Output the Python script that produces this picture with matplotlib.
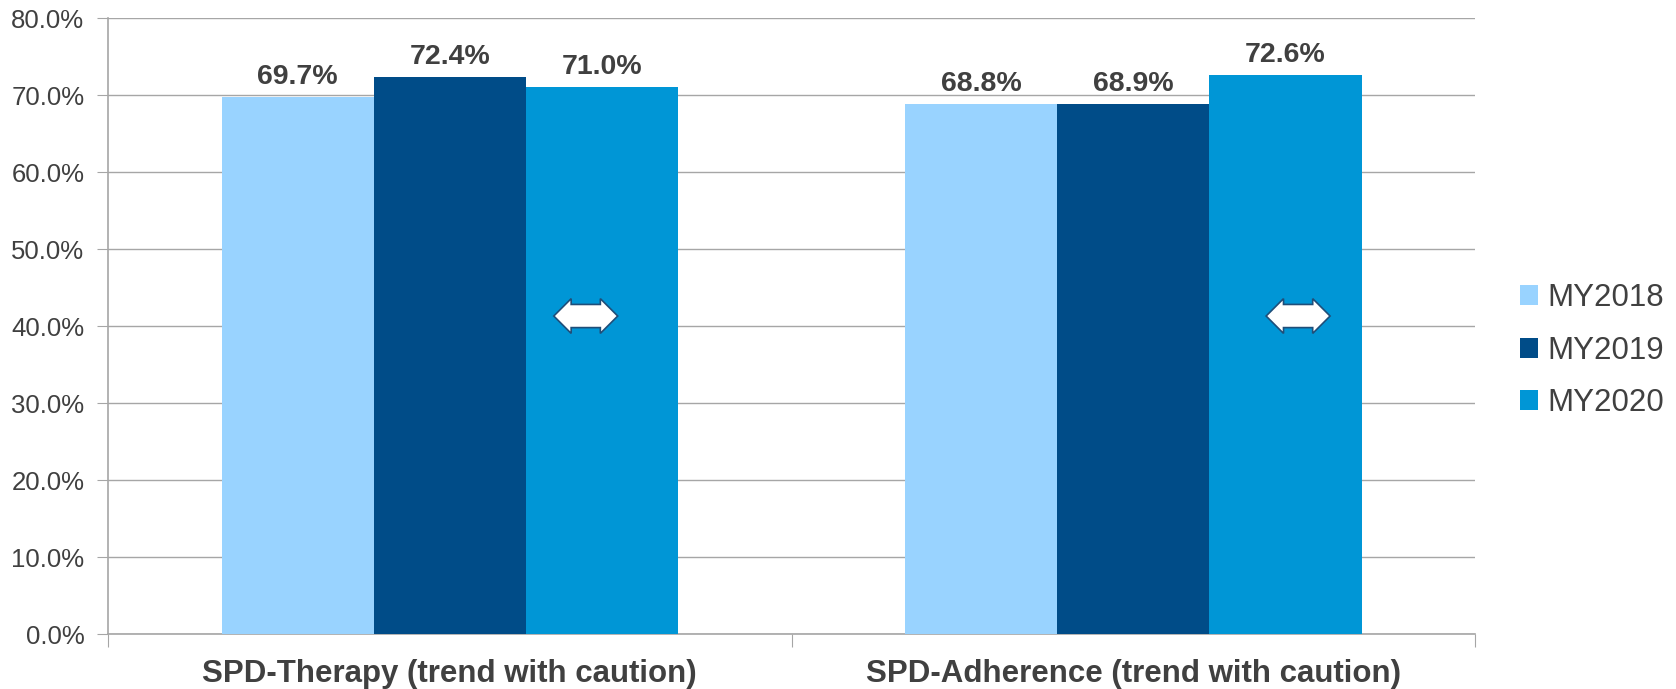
import numpy as np
import matplotlib.pyplot as plt
from matplotlib.ticker import FuncFormatter, MultipleLocator

plt.rcParams['font.family'] = ['Liberation Sans', 'DejaVu Sans']

categories = ['SPD-Therapy (trend with caution)', 'SPD-Adherence (trend with caution)']
years = ['MY2018', 'MY2019', 'MY2020']
values = {
    'MY2018': [69.7, 68.8],
    'MY2019': [72.4, 68.9],
    'MY2020': [71.0, 72.6],
}
colors = ['#99D3FF', '#004C88', '#0096D6']
# "no significant change" markers: (category index, y level)
arrow_cats = [0, 1]
arrow_y = [41.3, 41.3]
arrow_dx = [0.199, 0.241]

txt = '#404040'
grid = '#A6A6A6'

fig = plt.figure(figsize=(16.76, 6.89), dpi=100)
ax = fig.add_axes([0.0644, 0.0798, 0.8158, 0.894])

x = np.arange(len(categories))
w = 0.2225
for i, yr in enumerate(years):
    bars = ax.bar(x + (i - 1) * w, values[yr], w, color=colors[i], label=yr, zorder=3)
    for b, v in zip(bars, values[yr]):
        ax.annotate('%.1f%%' % v, (b.get_x() + b.get_width() / 2, v),
                    xytext=(0, 5), textcoords='offset points', ha='center', va='bottom',
                    fontsize=20.5, fontweight='bold', color=txt)

for c, yv, dx in zip(arrow_cats, arrow_y, arrow_dx):
    ax.text(c + dx, yv, '         ', fontsize=11, ha='center', va='center', zorder=5,
            bbox=dict(boxstyle='darrow,pad=0.3', fc='white', ec='#1F4E79', lw=1.2))

ax.set_xlim(-0.5, 1.5)
ax.set_ylim(0, 80)
ax.yaxis.set_major_locator(MultipleLocator(10))
ax.yaxis.set_major_formatter(FuncFormatter(lambda v, p: '%.1f%%' % v))
ax.yaxis.grid(True, color=grid, lw=1, zorder=0)
ax.set_axisbelow(True)

ax.set_xticks([-0.5, 0.5, 1.5])
ax.set_xticklabels([])
ax.set_xticks(x, minor=True)
ax.set_xticklabels(categories, minor=True, fontsize=22.5, fontweight='bold', color=txt)
ax.tick_params(axis='x', which='minor', length=0, pad=18)
ax.tick_params(axis='x', which='major', length=9, color=grid, direction='out')
ax.tick_params(axis='y', length=8, color=grid, labelsize=18.5, labelcolor=txt, pad=9)

for s in ['top', 'right']:
    ax.spines[s].set_visible(False)
for s in ['left', 'bottom']:
    ax.spines[s].set_color(grid)
    ax.spines[s].set_linewidth(1.2)

leg = fig.legend(loc='center left', bbox_to_anchor=(0.9067, 0.491), frameon=False,
                 fontsize=22.5, handlelength=0.6, handleheight=0.6, handletextpad=0.3,
                 labelspacing=0.72, borderaxespad=0, borderpad=0)
for t in leg.get_texts():
    t.set_color(txt)

fig.savefig('out.png', dpi=100)
